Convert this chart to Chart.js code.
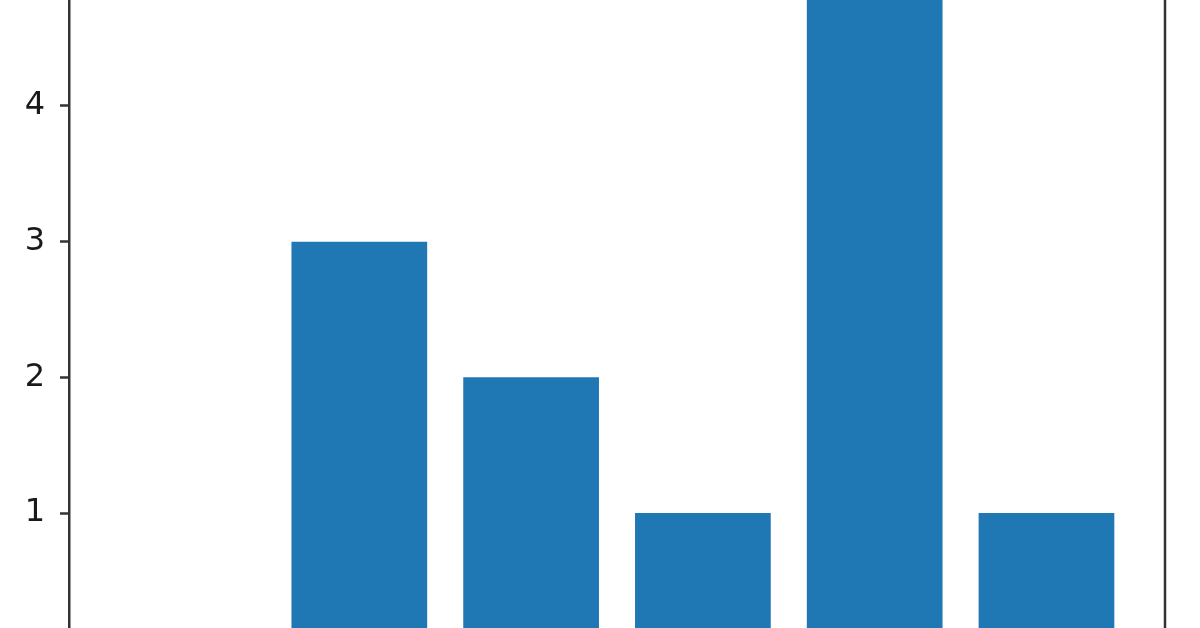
<!DOCTYPE html>
<html>
<head>
<meta charset="utf-8">
<script src="https://cdn.jsdelivr.net/npm/chart.js@4.4.1/dist/chart.umd.min.js"></script>
<style>
  html, body { margin: 0; padding: 0; width: 1200px; height: 628px; overflow: hidden; background: #ffffff; }
  #wrap { position: absolute; left: 0; top: -100px; width: 1200px; height: 900px; }
</style>
</head>
<body>
<div id="wrap"><canvas id="c" width="1200" height="900"></canvas></div>
<script>
// Data
const categories = [0, 1, 2, 3, 4, 5];
const values = [0, 3, 2, 1, 5, 1];
const yTicks = [0, 1, 2, 3, 4, 5];

const points = categories.map((c, i) => ({ x: c, y: values[i] }));

const framePlugin = {
  id: 'frame',
  afterDraw(chart) {
    const { ctx, chartArea: a } = chart;
    ctx.save();
    ctx.strokeStyle = '#333333';
    ctx.lineWidth = 2.5;
    ctx.beginPath();
    ctx.moveTo(a.right, a.top);
    ctx.lineTo(a.right, a.bottom);
    ctx.moveTo(a.left, a.top);
    ctx.lineTo(a.right, a.top);
    ctx.moveTo(a.left, a.bottom);
    ctx.lineTo(a.right, a.bottom);
    ctx.stroke();
    ctx.restore();
  }
};

new Chart(document.getElementById('c'), {
  type: 'bar',
  data: {
    datasets: [{
      data: points,
      backgroundColor: '#1f77b4',
      borderWidth: 0,
      categoryPercentage: 1.0,
      barPercentage: 0.79
    }]
  },
  options: {
    responsive: false,
    animation: false,
    devicePixelRatio: 1,
    layout: { padding: { top: 36.4, right: 35, bottom: 151.3, left: 0 } },
    plugins: { legend: { display: false }, tooltip: { enabled: false } },
    scales: {
      x: {
        type: 'linear',
        display: false,
        min: -0.69,
        max: 5.69,
        offset: false,
        afterBuildTicks(scale) { scale.ticks = categories.map(v => ({ value: v })); }
      },
      y: {
        min: 0,
        max: 5.25,
        afterFit(scale) { scale.width = 69; },
        afterBuildTicks(scale) { scale.ticks = yTicks.map(v => ({ value: v })); },
        ticks: {
          font: { family: 'DejaVu Sans', size: 32 },
          color: '#1a1a1a',
          padding: 15
        },
        grid: {
          drawOnChartArea: false,
          drawTicks: true,
          tickLength: 9,
          tickWidth: 2.5,
          tickColor: '#333333'
        },
        border: { display: true, color: '#333333', width: 2.5 }
      }
    }
  },
  plugins: [framePlugin]
});
</script>
</body>
</html>
